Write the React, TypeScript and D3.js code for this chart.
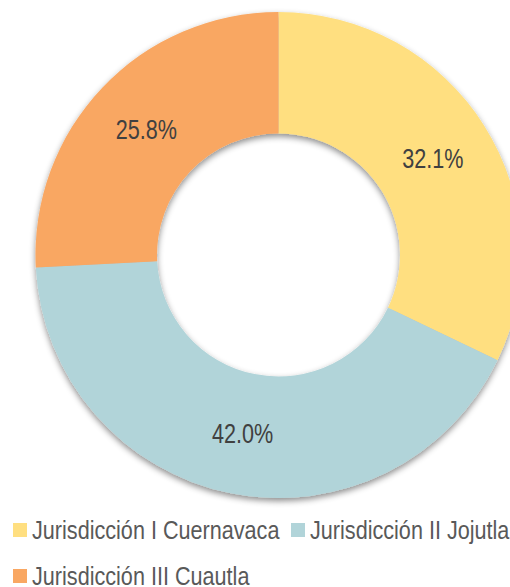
import React from "react";
import * as d3 from "d3";

const categories = ["Jurisdicción I Cuernavaca", "Jurisdicción II Jojutla", "Jurisdicción III Cuautla"];
const values = [32.1, 42.0, 25.8];
const labels = ["32.1%", "42.0%", "25.8%"];
const colors = ["#FFDF80", "#B1D4D9", "#F9A762"];

const W = 510;
const H = 587;
const FONT = "'Liberation Sans', Arial, sans-serif";

export default function App() {
  const cx = 278.5;
  const cy = 255;
  const R = 243;
  const r = 121.5;
  const pie = d3.pie<number>().sort(null).value((d) => d);
  const arcs = pie(values);
  const arc = d3.arc<d3.PieArcDatum<number>>().innerRadius(r).outerRadius(R);
  const labelArc = d3.arc<d3.PieArcDatum<number>>().innerRadius((R + r) / 2).outerRadius((R + r) / 2);

  const labelSize = 27;
  const legendSize = 25;

  const legendItems = [
    { x: 13, y: 523 },
    { x: 291, y: 523 },
    { x: 13, y: 569 },
  ];

  return (
    <svg
      width={W}
      height={H}
      style={{ position: "absolute", left: 0, top: 0, display: "block" }}
    >
      <defs>
        <filter id="sh" x="-20%" y="-20%" width="140%" height="140%">
          <feDropShadow dx="0" dy="3" stdDeviation="3" floodColor="#000" floodOpacity="0.45" />
        </filter>
      </defs>
      <rect width={W} height={H} fill="#fff" />
      <g transform={`translate(${cx},${cy})`}>
        <g filter="url(#sh)">
          {arcs.map((a, i) => (
            <path key={i} d={arc(a) || ""} fill={colors[i]} />
          ))}
        </g>
        {arcs.map((a, i) => {
          const [lx, ly] = labelArc.centroid(a);
          return (
            <text
              key={i}
              transform={`translate(${lx},${ly + 0.358 * labelSize}) scale(0.8,1)`}
              textAnchor="middle"
              fontFamily={FONT}
              fontSize={labelSize}
              fill="#404040"
            >
              {labels[i]}
            </text>
          );
        })}
      </g>
      {categories.map((c, i) => (
        <g key={i}>
          <rect x={legendItems[i].x} y={legendItems[i].y} width={14} height={14} fill={colors[i]} />
          <text
            transform={`translate(${legendItems[i].x + 19},${legendItems[i].y + 15.5}) scale(0.865,1)`}
            fontFamily={FONT}
            fontSize={legendSize}
            fill="#595959"
          >
            {c}
          </text>
        </g>
      ))}
    </svg>
  );
}
